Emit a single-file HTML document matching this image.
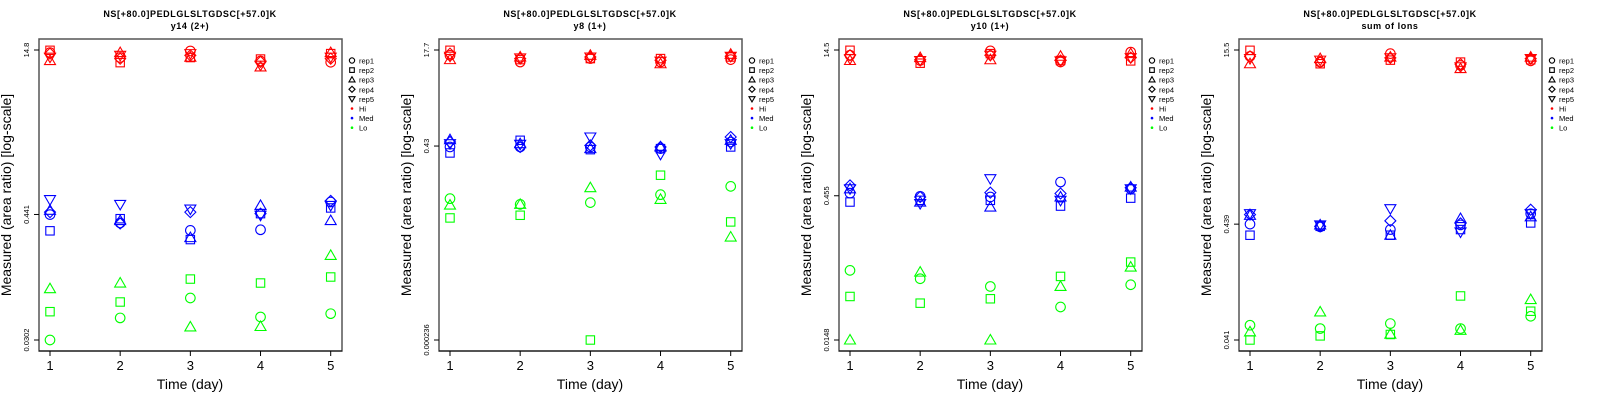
<!DOCTYPE html>
<html><head><meta charset="utf-8"><style>
html,body{margin:0;padding:0;background:#fff;width:1600px;height:400px;overflow:hidden}
svg{display:block}
text{font-family:"Liberation Sans",sans-serif}
</style></head><body>
<svg id="chart" width="1600" height="400" xmlns="http://www.w3.org/2000/svg"></svg>
<script>
const days = [1,2,3,4,5];
const panelTitles = ["y14 (2+)","y8 (1+)","y10 (1+)","sum of Ions"];
const peptide = "NS[+80.0]PEDLGLSLTGDSC[+57.0]K";
const yTickLabels = [["0.0302","0.441","14.8"],["0.000236","0.43","17.7"],["0.0148","0.455","14.5"],["0.041","0.439","15.5"]];
const yTickValues = [[0.0302,0.441,14.8],[0.000236,0.43,17.7],[0.0148,0.455,14.5],[0.041,0.439,15.5]];
const reps = ["rep1","rep2","rep3","rep4","rep5"];
const groups = ["Hi","Med","Lo"];
// panel 1 (y14)
const p1Hi = [[14.0,12.6,14.5,11.7,11.4],[14.7,11.3,12.6,12.2,13.7],[11.8,14.0,12.7,10.3,14.0],[13.7,12.3,13.2,11.5,12.3],[12.7,13.2,13.7,10.7,12.7]];
const p1Med = [[0.44,0.368,0.314,0.318,0.576],[0.311,0.403,0.258,0.449,0.507],[0.482,0.387,0.269,0.535,0.387],[0.464,0.364,0.464,0.449,0.59],[0.606,0.547,0.495,0.434,0.535]];
const p1Lo = [[0.0302,0.0484,0.0741,0.0494,0.053],[0.0553,0.068,0.111,0.102,0.116],[0.0904,0.102,0.0399,0.0403,0.184],null,null];
// panel 2 (y8)
const p2Hi = [[14.4,11.1,12.7,11.1,12.2],[17.5,12.2,12.7,12.7,13.5],[12.2,13.5,14.4,10.4,15.0],[15.4,12.7,13.5,11.9,13.9],[13.9,13.0,13.5,11.5,13.9]];
const p2Med = [[0.415,0.415,0.415,0.389,0.503],[0.329,0.537,0.374,0.389,0.415],[0.55,0.471,0.389,0.415,0.537],[0.503,0.415,0.44,0.415,0.61],[0.471,0.46,0.61,0.312,0.471]];
const p2Lo = [[0.0561,0.045,0.0481,0.0655,0.0903],[0.0266,0.0295,0.000236,0.139,0.0228],[0.0437,0.045,0.0858,0.0545,0.0127],null,null];
// panel 3 (y10)
const p3Hi = [[12.8,11.3,14.2,10.9,13.8],[14.4,10.6,13.3,11.3,11.2],[11.3,12.1,11.5,12.5,13.3],[12.8,11.5,12.8,11.3,12.1],[11.8,11.3,12.8,11.2,12.1]];
const p3Med = [[0.485,0.449,0.442,0.63,0.537],[0.392,0.408,0.408,0.356,0.43],[0.537,0.392,0.348,0.442,0.56],[0.582,0.442,0.49,0.48,0.55],[0.537,0.378,0.682,0.408,0.537]];
const p3Lo = [[0.0773,0.0634,0.0528,0.0324,0.055],[0.0416,0.0355,0.0394,0.067,0.0942],[0.0148,0.0742,0.0148,0.0528,0.0837],null,null];
// panel 4 (sum)
const p4Hi = [[13.6,12.1,14.4,11.3,12.4],[15.4,11.7,12.6,12.1,12.7],[11.7,13.0,13.4,10.6,13.4],[13.6,12.1,13.2,11.6,13.0],[13.0,12.6,13.2,11.0,13.0]];
const p4Med = [[0.439,0.415,0.393,0.432,0.544],[0.35,0.42,0.35,0.393,0.45],[0.526,0.432,0.35,0.492,0.51],[0.534,0.42,0.47,0.446,0.59],[0.544,0.432,0.603,0.374,0.544]];
const p4Lo = [[0.0555,0.0518,0.0574,0.0518,0.0667],[0.041,0.0446,0.0459,0.101,0.0739],[0.0484,0.0728,0.0462,0.05,0.0938],null,null];

const panelData = [[p1Hi,p1Med,p1Lo],[p2Hi,p2Med,p2Lo],[p3Hi,p3Med,p3Lo],[p4Hi,p4Med,p4Lo]];
const colors = ["#ff0000","#0000ff","#00ff00"];
const NS="http://www.w3.org/2000/svg";
const svg=document.getElementById('chart');
function mk(tag,attrs,parent){const e=document.createElementNS(NS,tag);for(const k in attrs)e.setAttribute(k,attrs[k]);(parent||svg).appendChild(e);return e;}
function marker(g,shape,x,y,col,s){
  let e;
  if(shape===0){e=mk('circle',{cx:x,cy:y,r:4.8*s,fill:'none',stroke:col,'stroke-width':1.1},g);}
  else if(shape===1){e=mk('rect',{x:x-4.2*s,y:y-4.2*s,width:8.4*s,height:8.4*s,fill:'none',stroke:col,'stroke-width':1.1},g);}
  else if(shape===2){e=mk('polygon',{points:`${x},${y-5.5*s} ${x-5.5*s},${y+4*s} ${x+5.5*s},${y+4*s}`,fill:'none',stroke:col,'stroke-width':1.1},g);}
  else if(shape===3){e=mk('polygon',{points:`${x},${y-5.5*s} ${x+5.5*s},${y} ${x},${y+5.5*s} ${x-5.5*s},${y}`,fill:'none',stroke:col,'stroke-width':1.1},g);}
  else {e=mk('polygon',{points:`${x},${y+5.5*s} ${x-5.5*s},${y-4*s} ${x+5.5*s},${y-4*s}`,fill:'none',stroke:col,'stroke-width':1.1},g);}
  return e;
}
for(let p=0;p<4;p++){
  const ox=p*400;
  const g=mk('g',{transform:`translate(${ox},0)`});
  
  
  const tv=yTickValues[p];
  const lmin=Math.log(tv[0]), lmax=Math.log(tv[2]);
  const ys=v=>340-(Math.log(v)-lmin)/(lmax-lmin)*290;
  const xs=d=>50+(d-1)*(330.7-50)/4;
  let t=mk('text',{x:190,y:17,'text-anchor':'middle','font-size':9,'font-weight':'bold','letter-spacing':0.6},g);t.textContent=peptide;
  
  t=mk('text',{x:190,y:29,'text-anchor':'middle','font-size':9,'font-weight':'bold','letter-spacing':0.6},g);t.textContent=panelTitles[p];
  
  let b=mk('rect',{x:39,y:39,width:303,height:312,fill:'none',stroke:'#555','stroke-width':1.5},g);
  
  mk('line',{x1:39,y1:351,x2:342,y2:351,stroke:'#000','stroke-width':1},g);
  days.forEach(d=>{
    mk('line',{x1:xs(d),y1:351,x2:xs(d),y2:356,stroke:'#000'},g);
    const tt=mk('text',{x:xs(d),y:370,'text-anchor':'middle','font-size':13},g);tt.textContent=d;
    
  });
  t=mk('text',{x:190,y:389,'text-anchor':'middle','font-size':14},g);t.textContent='Time (day)';
  
  tv.forEach((v,i)=>{
    const y=ys(v);
    mk('line',{x1:34,y1:y,x2:39,y2:y,stroke:'#000'},g);
    const tt=mk('text',{x:29,y:y,'text-anchor':'middle','font-size':7.5,transform:`rotate(-90 29 ${y})`},g);tt.textContent=yTickLabels[p][i];
    
  });
  t=mk('text',{x:11,y:195,'text-anchor':'middle','font-size':14,transform:'rotate(-90 11 195)'},g);t.textContent='Measured (area ratio) [log-scale]';
  
  panelData[p].forEach((grp,gi)=>{
    grp.forEach((vals,ri)=>{
      if(!vals)return;
      vals.forEach((v,di)=>{
        const m=marker(g,ri,xs(days[di]),ys(v),colors[gi],1);
        
        
      });
    });
  });
  const lg=mk('g',{},g);
  
  const labels=reps.concat(groups);
  labels.forEach((lab,i)=>{
    const y=60.5+i*9.6;
    let m;
    if(i<5){m=marker(lg,i,352,y,'#000',0.55);}
    else{m=mk('circle',{cx:352,cy:y,r:1.3,fill:colors[i-5]},lg);}
    
    const tt=mk('text',{x:359,y:y+3,'font-size':7.5},lg);tt.textContent=lab;
    
  });
}
</script>
</body></html>
